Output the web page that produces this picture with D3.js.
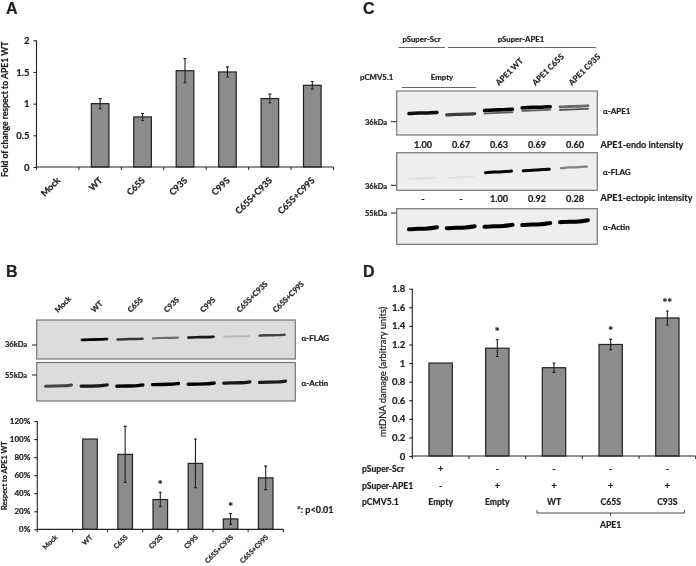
<!DOCTYPE html>
<html><head><meta charset="utf-8">
<script src="https://cdn.jsdelivr.net/npm/d3@7"></script>
<style>
html,body{margin:0;padding:0;background:#fff}
svg{display:block;filter:blur(0.45px)}
text{font-family:Lato,"Open Sans",sans-serif;font-weight:700;fill:#222;stroke:#222;stroke-width:.22px}
</style></head><body><svg id="c" width="696" height="566"></svg>
<script>
// Panel A
const catsAB = ["Mock","WT","C65S","C93S","C99S","C65S+C93S","C65S+C99S"];
const valuesA = [null,1.0,0.79,1.52,1.5,1.08,1.29];
const errorsA = [null,0.08,0.055,0.19,0.08,0.07,0.06];
const ticksA = [0,0.5,1,1.5,2];
// Panel B chart
const valuesB = [null,100,83,33,73,11.5,57];
const errorsB = [null,0,31,8,27,6,13];
const ticksB = [0,20,40,60,80,100,120];
const starsB = [null,null,null,"*",null,"*",null];
// Panel D
const catsD = ["Empty","Empty","WT","C65S","C93S"];
const valuesD = [1.0,1.16,0.95,1.2,1.485];
const errorsD = [0,0.09,0.05,0.055,0.075];
const ticksD = [0,0.2,0.4,0.6,0.8,1,1.2,1.4,1.6,1.8];
const starsD = [null,"*",null,"*","**"];
const scrD = ["+","-","-","-","-"];
const apeD = ["-","+","+","+","+"];
// Blots: band darkness (0-1) and relative migration (0 top, 1 bottom of blot)
const lanesB = catsAB;
const flagB_dark = [0,1,0.75,0.5,0.9,0.16,0.7];
const flagB_pos = [0,0.5,0.49,0.46,0.44,0.42,0.39];
const actinB_dark = [0.7,0.9,1,1,1,0.92,0.88];
const actinB_pos = [0.6,0.6,0.6,0.56,0.55,0.52,0.5];
const lanesC = ["1","2","3","4","5"];
const lanesLabelC = ["APE1 WT","APE1 C65S","APE1 C93S"];
const endoDark = [0.95,0.75,1,1,0.55];
const endoPos = [0.5,0.53,0.43,0.37,0.35];
const endoLower = [0,0,0.6,0.6,0.65];
const flagC_dark = [0.06,0.06,1,1,0.45];
const flagC_pos = [0.68,0.65,0.51,0.46,0.39];
const actinC_dark = [1,1,1,1,1];
const actinC_pos = [0.55,0.52,0.48,0.43,0.35];
const endoIntensity = ["1.00","0.67","0.63","0.69","0.60"];
const ectopicIntensity = ["-","-","1.00","0.92","0.28"];

const svg = d3.select("#c");
function label(x,y,t,o={}){
  const s = svg.append("text").attr("x",x).attr("y",y).text(t)
    .attr("font-size",o.size||9).attr("text-anchor",o.anchor||"start");
  if(o.rotate!==undefined) s.attr("transform",`rotate(${o.rotate} ${x} ${y})`);
  if(o.family) s.style("font-family",o.family);
  return s;
}
function barChart(cfg){
  const x = d3.scaleBand().domain(d3.range(cfg.values.length)).range([cfg.x0,cfg.x1]).paddingInner(cfg.pad).paddingOuter(cfg.pad/2);
  const y = d3.scaleLinear().domain(cfg.domain).range([cfg.y0,cfg.y1]);
  const g = svg.append("g");
  const idx = cfg.values.map((v,i)=>i).filter(i=>cfg.values[i]!==null);
  g.selectAll("rect").data(idx).join("rect")
    .attr("x",i=>x(i)).attr("width",x.bandwidth())
    .attr("y",i=>y(cfg.values[i])).attr("height",i=>y(0)-y(cfg.values[i]))
    .attr("fill","#8c8c8c").attr("stroke","#222").attr("stroke-width",1.2);
  const yAxis = d3.axisLeft(y).tickValues(cfg.ticks).tickSize(3).tickFormat(cfg.format);
  const ya = g.append("g").attr("transform",`translate(${cfg.x0},0)`).call(yAxis);
  ya.select(".domain").attr("d",`M0,${cfg.y1}V${cfg.y0}`);
  const step = (cfg.x1-cfg.x0)/cfg.values.length;
  const xa = g.append("g").attr("transform",`translate(0,${cfg.y0})`);
  xa.append("line").attr("x1",cfg.x0).attr("x2",cfg.x1).attr("stroke","#222").attr("stroke-width",1.2);
  xa.selectAll(".t").data(d3.range(cfg.values.length+1)).join("line").attr("class","t")
    .attr("x1",i=>cfg.x0+i*step).attr("x2",i=>cfg.x0+i*step).attr("y1",0).attr("y2",3).attr("stroke","#222");
  ya.selectAll("line,path").attr("stroke","#222").attr("stroke-width",1.1);
  ya.selectAll("text").attr("font-size",cfg.tickSize).attr("dx",-1).style("fill","#222");
  const errs = idx.filter(i=>cfg.errors[i]>0);
  const cx = i=>x(i)+x.bandwidth()/2;
  g.selectAll(".e").data(errs).join("path").attr("class","e")
    .attr("d",i=>{const a=y(cfg.values[i]+cfg.errors[i]),b=y(cfg.values[i]-cfg.errors[i]),c=cx(i);
      return `M${c},${a}V${b}M${c-1.5},${a}H${c+1.5}M${c-1.5},${b}H${c+1.5}`;})
    .attr("stroke","#222").attr("stroke-width",1.1).attr("fill","none");
  if(cfg.stars) cfg.stars.forEach((s,i)=>{ if(s) label(cx(i),y(cfg.values[i]+cfg.errors[i])-(cfg.starGap||5),s,{size:11.5,anchor:"middle"}); });
  if(cfg.labels) cfg.labels.forEach((t,i)=>{
    label(cx(i)+cfg.labelDx,cfg.y0+cfg.labelDy,t,{size:cfg.labelSize,anchor:"end",rotate:-45});
  });
  return {x,y,cx};
}
const panel=(x,y,t)=>label(x,y,t,{size:16,family:"Liberation Sans"});
// A
barChart({values:valuesA,errors:errorsA,x0:36.5,x1:333.5,y0:167,y1:40.3,domain:[0,2],pad:0.585,ticks:ticksA,
  format:d3.format("~g"),tickSize:9.5,labels:catsAB,labelDx:3,labelDy:14,labelSize:9});
panel(6,13.5,"A");
label(7.5,177,"Fold of change respect to APE1 WT",{size:8.6,rotate:-90});
// B chart
barChart({values:valuesB,errors:errorsB,x0:37.3,x1:283.3,y0:529.3,y1:421,domain:[0,120],pad:0.585,ticks:ticksB,
  format:d=>d+"%",tickSize:8,labels:catsAB,labelDx:3,labelDy:8.5,labelSize:6.9,stars:starsB,starGap:3});
label(7,510,"Respect to APE1 WT",{size:7.4,rotate:-90});
label(297,513,"*: p<0.01",{size:9});
panel(6,277,"B");
// D
const d = barChart({values:valuesD,errors:errorsD,x0:412.3,x1:695.7,y0:456,y1:288.7,domain:[0,1.8],pad:0.588,ticks:ticksD,
  format:d3.format("~g"),tickSize:9.5,stars:starsD,starGap:4});
label(386,437,"mtDNA damage (arbitrary units)",{size:9.4,rotate:-90}).style("font-weight",400);
label(362,472,"pSuper-Scr",{size:8.6});
label(362,489,"pSuper-APE1",{size:8.6});
label(362,505,"pCMV5.1",{size:8.6});
scrD.forEach((t,i)=>label(d.cx(i),472,t,{size:9,anchor:"middle"}));
apeD.forEach((t,i)=>label(d.cx(i),489,t,{size:9,anchor:"middle"}));
catsD.forEach((t,i)=>label(d.cx(i),505,t,{size:8.6,anchor:"middle"}));
svg.append("path").attr("d",`M${d.cx(2)-17},510v3H${d.cx(4)+17}v-3M${d.cx(3)},513v3`).attr("fill","none").attr("stroke","#333").attr("stroke-width",0.9);
label(d.cx(3),528,"APE1",{size:8.6,anchor:"middle"});
panel(363,277,"D");

// Blots
const defs = svg.append("defs");
defs.append("filter").attr("id","bl2").attr("x","-20%").attr("y","-200%").attr("width","140%").attr("height","500%")
  .append("feGaussianBlur").attr("stdDeviation",0.7);
function blot(c){
  svg.append("rect").attr("x",c.x0).attr("y",c.y0).attr("width",c.x1-c.x0).attr("height",c.y1-c.y0)
    .attr("fill",c.bg).attr("stroke","#777").attr("stroke-width",1.2);
  const x = d3.scalePoint().domain(c.lanes).range([c.l0,c.l1]);
  const y = d3.scaleLinear().domain([0,1]).range([c.y0,c.y1]);
  const grey = d3.scaleLinear().domain([0,1]).range([c.bg,"#000000"]);
  const line = d3.line().curve(d3.curveBasis);
  const gg = svg.append("g").attr("filter","url(#bl2)");
  c.lanes.forEach((l,i)=>{
    const v = c.dark[i]; if(!v) return;
    const h = c.w/2, cx=x(l), cy=y(c.pos[i]);
    const rise = c.tilt||0;
    gg.append("path").attr("d",line([[cx-h,cy+rise],[cx-h/3,cy+(c.sag||0)],[cx+h/3,cy+(c.sag||0)],[cx+h,cy-rise]]))
      .attr("fill","none").attr("stroke",grey(v)).attr("stroke-width",c.th*(0.55+0.45*v)).attr("stroke-linecap","round");
    if(c.lower && c.lower[i]) gg.append("path").attr("d",line([[cx-h,cy+3+rise],[cx,cy+3],[cx+h,cy+3-rise]]))
      .attr("fill","none").attr("stroke",grey(c.lower[i])).attr("stroke-width",1.8).attr("stroke-linecap","round");
  });
}
const bgB="#dcdcdc", bgC="#eeeeee";
blot({x0:36.7,x1:295.3,y0:320,y1:359,bg:bgB,lanes:lanesB,l0:59,l1:272,w:25,th:2.8,dark:flagB_dark,pos:flagB_pos,tilt:0.4});
blot({x0:36.7,x1:295.3,y0:362.5,y1:401,bg:bgB,lanes:lanesB,l0:58.5,l1:272.5,w:26,th:3.4,dark:actinB_dark,pos:actinB_pos,tilt:0.6,sag:0.4});
blot({x0:396.7,x1:597.3,y0:91,y1:135,bg:bgC,lanes:lanesC,l0:423,l1:574,w:28,th:3.6,dark:endoDark,pos:endoPos,lower:endoLower,tilt:0.6});
blot({x0:396.7,x1:597.3,y0:152.7,y1:190.3,bg:bgC,lanes:lanesC,l0:423,l1:574,w:26,th:3,dark:flagC_dark,pos:flagC_pos,tilt:0.8});
blot({x0:396.7,x1:597.3,y0:208.7,y1:244.3,bg:bgC,lanes:lanesC,l0:423,l1:574,w:28,th:4,dark:actinC_dark,pos:actinC_pos,tilt:1,sag:0.5});

// Blot annotations
const tickMark=(x1,x2,y)=>svg.append("line").attr("x1",x1).attr("x2",x2).attr("y1",y).attr("y2",y).attr("stroke","#222").attr("stroke-width",1);
label(5,347,"36kDa",{size:7.5}); tickMark(32,37,345);
label(5,378,"55kDa",{size:7.5}); tickMark(32,37,375);
label(301.5,341,"α-FLAG",{size:8});
label(301.5,386,"α-Actin",{size:8});
const blx = d3.scalePoint().domain(lanesB).range([58,276]);
lanesB.forEach(l=>label(blx(l),313,l,{size:7.6,rotate:-45}));

panel(363,13.5,"C");
label(421.5,42,"pSuper-Scr",{size:7.8,anchor:"middle"});
label(521,42,"pSuper-APE1",{size:7.8,anchor:"middle"});
const hline=(x1,x2,y)=>svg.append("line").attr("x1",x1).attr("x2",x2).attr("y1",y).attr("y2",y).attr("stroke","#555").attr("stroke-width",0.9);
hline(398.5,445,47.5); hline(448,596,47.5); hline(402,476,87.5);
label(360,80,"pCMV5.1",{size:7.8});
label(442,80,"Empty",{size:7.8,anchor:"middle"});
const clx = d3.scalePoint().domain(lanesLabelC).range([499,572]);
lanesLabelC.forEach(l=>label(clx(l),86,l,{size:8,rotate:-45}));
label(365,125,"36kDa",{size:7.5}); tickMark(391,396.5,121.7);
label(365,189,"36kDa",{size:7.5}); tickMark(391,396.5,185.3);
label(365,216,"55kDa",{size:7.5}); tickMark(391,396.5,213);
label(603,114,"α-APE1",{size:8});
label(603,175,"α-FLAG",{size:8});
label(603,230,"α-Actin",{size:8});
const vx = d3.scalePoint().domain(lanesC).range([423,575]);
lanesC.forEach((l,i)=>label(vx(l),147.5,endoIntensity[i],{size:9.2,anchor:"middle"}));
lanesC.forEach((l,i)=>label(vx(l),202,ectopicIntensity[i],{size:9.2,anchor:"middle"}));
label(600.5,147.5,"APE1-endo intensity",{size:9});
label(600.5,201,"APE1-ectopic intensity",{size:9});
</script></body></html>
